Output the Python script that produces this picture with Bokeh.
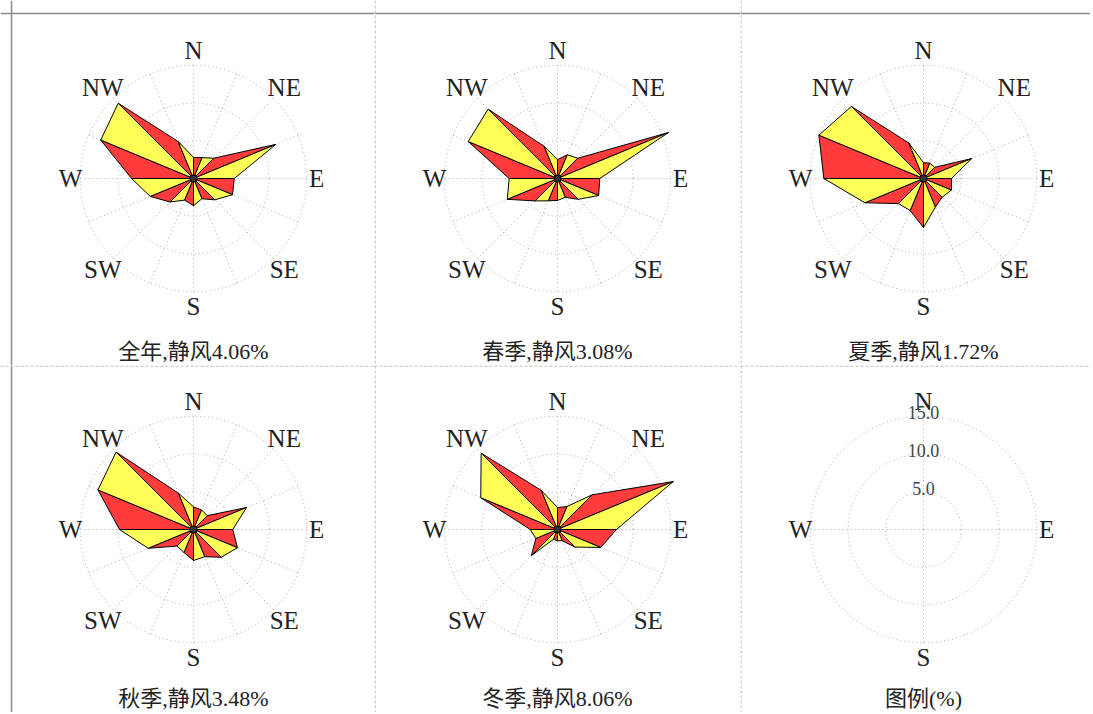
import numpy as np
from bokeh.plotting import figure
from bokeh.layouts import gridplot
from bokeh.models import Range1d, Span
from bokeh.core.properties import value
from bokeh.embed import file_html
from bokeh.resources import INLINE

# ---------------- data ----------------
directions = ["N", "NNE", "NE", "ENE", "E", "ESE", "SE", "SSE",
              "S", "SSW", "SW", "WSW", "W", "WNW", "NW", "NNW"]
label_dirs = ["N", "NE", "E", "SE", "S", "SW", "W", "NW"]
annual = [2.8, 3.0, 3.8, 11.8, 5.4, 5.6, 4.0, 2.9, 3.6, 3.1, 4.4, 6.2, 8.2, 13.3, 14.1, 5.3]
spring = [2.5, 3.4, 3.8, 15.9, 5.6, 5.9, 3.9, 2.7, 2.9, 3.2, 4.2, 7.2, 6.4, 12.8, 13.0, 4.6]
summer = [2.1, 2.2, 2.1, 6.9, 3.7, 4.0, 3.5, 4.1, 6.5, 4.6, 4.7, 8.4, 13.2, 15.0, 13.5, 5.1]
autumn = [3.0, 2.8, 2.6, 7.6, 5.2, 6.3, 5.2, 3.9, 4.1, 3.3, 3.1, 6.5, 9.8, 13.7, 14.5, 5.2]
winter = [2.9, 3.3, 6.5, 16.6, 7.8, 6.2, 3.3, 1.6, 1.5, 1.4, 4.9, 3.1, 3.6, 11.0, 14.3, 5.6]
season_names = ["全年", "春季", "夏季", "秋季", "冬季"]
calm = [4.06, 3.08, 1.72, 3.48, 8.06]
ring_ticks = [5.0, 10.0, 15.0]
legend_dirs = ["N", "E", "S", "W"]
legend_title = "图例(%)"

# ---------------- style / layout ----------------
K = 7.55                      # pixels per percent
col_w = [374, 366, 350]
row_h = [365, 347]
cx_px = [193, 183, 183]
cy_px = [178, 164]
RED = "#ff3b3b"
YELLOW = "#ffff57"
RING = "#a8a8a8"
TXT = "#222222"
LAT = value("Liberation Serif")
MIX = value("'Liberation Serif', 'Noto Sans CJK SC'")

angle = {d: np.deg2rad(i * 22.5) for i, d in enumerate(directions)}


def make_fig(w, h, cx, cy):
    p = figure(width=w, height=h,
               x_range=Range1d(-cx / K, (w - cx) / K),
               y_range=Range1d(-(h - cy) / K, cy / K),
               output_backend="svg", toolbar_location=None,
               x_axis_type=None, y_axis_type=None, min_border=0)
    p.outline_line_color = None
    p.background_fill_color = "white"
    p.border_fill_color = "white"
    return p


def draw_grid(p, spoke_dirs):
    rmax = ring_ticks[-1]
    p.circle(x=[0] * len(ring_ticks), y=[0] * len(ring_ticks), radius=ring_ticks,
             fill_color=None, line_color=RING, line_dash="1 3", line_width=1)
    th = np.array([angle[d] for d in spoke_dirs])
    p.segment(x0=np.zeros(len(th)), y0=np.zeros(len(th)),
              x1=rmax * np.sin(th), y1=rmax * np.cos(th),
              line_color=RING, line_dash="1 3", line_width=1)


def draw_labels(p, dirs):
    xs, ys = [], []
    for d in dirs:
        r = 16.3 if d in ("E", "W") else 17.0
        xs.append(r * np.sin(angle[d]))
        ys.append(r * np.cos(angle[d]))
    p.text(x=xs, y=ys, text=dirs, text_align="center", text_baseline="middle",
           text_font=LAT, text_font_size="25px", text_color=TXT)


def draw_rose(p, vals):
    th = np.array([angle[d] for d in directions])
    r = np.array(vals)
    vx = r * np.sin(th)
    vy = r * np.cos(th)
    n = len(directions)
    xs = [[0, vx[i], vx[(i + 1) % n]] for i in range(n)]
    ys = [[0, vy[i], vy[(i + 1) % n]] for i in range(n)]
    colors = [RED if i % 2 == 0 else YELLOW for i in range(n)]
    p.patches(xs=xs, ys=ys, fill_color=colors, line_color="black", line_width=1)
    p.scatter(x=[0], y=[0], size=7, fill_color="#333333", line_color="black")


def add_borders(p, row, col, w, h, cx, cy):
    if row == 0:
        p.add_layout(Span(location=cy / K - 13 / K, dimension="width",
                          line_color="#8a8a8a", line_width=1.5))
    if col == 0:
        p.add_layout(Span(location=-cx / K + 11 / K, dimension="height",
                          line_color="#8a8a8a", line_width=1.5))
    else:
        p.add_layout(Span(location=-cx / K + 0.6 / K, dimension="height",
                          line_color="#b0b0b0", line_dash="3 2", line_width=1))
    if row == 1:
        p.add_layout(Span(location=cy / K - 0.6 / K, dimension="width",
                          line_color="#b0b0b0", line_dash="3 2", line_width=1))


series = [annual, spring, summer, autumn, winter]
figs = []
for idx in range(6):
    row, col = divmod(idx, 3)
    w, h, cx, cy = col_w[col], row_h[row], cx_px[col], cy_px[row]
    p = make_fig(w, h, cx, cy)
    add_borders(p, row, col, w, h, cx, cy)
    if idx < 5:
        draw_grid(p, directions)
        draw_rose(p, series[idx])
        draw_labels(p, label_dirs)
        title = f"{season_names[idx]},静风{calm[idx]:.2f}%"
    else:
        draw_grid(p, legend_dirs)
        draw_labels(p, legend_dirs)
        p.text(x=[0] * len(ring_ticks), y=[t + 0.45 for t in ring_ticks],
               text=[f"{t:.1f}" for t in ring_ticks], text_align="center",
               text_baseline="middle", text_font=LAT, text_font_size="18px",
               text_color="#444444")
        title = legend_title
    if row == 0:
        p.text(x=[0], y=[-173 / K], text=[title], text_align="center",
               text_baseline="middle", text_font=MIX, text_font_size="22px",
               text_color=TXT)
    else:
        p.text(x=[0], y=[-(h - cy) / K + 2 / K], text=[title], text_align="center",
               text_baseline="bottom", text_font=MIX, text_font_size="22px",
               text_color=TXT)
    figs.append(p)

grid = gridplot([figs[0:3], figs[3:6]], toolbar_location=None)

open("out.html", "w").write(file_html(grid, INLINE))
